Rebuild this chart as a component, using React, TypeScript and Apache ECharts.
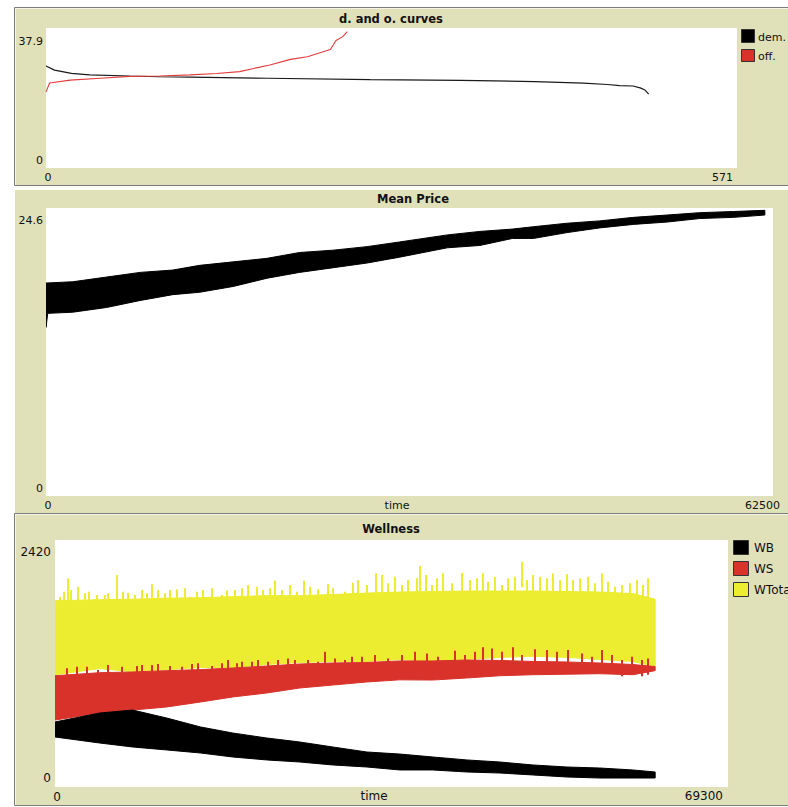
import React, { useEffect, useRef } from "react";
import * as echarts from "echarts";

// ---------- Panel 1: d. and o. curves ----------
const P1_TITLE = "d. and o. curves";
const P1_X_MAX = 571;
const P1_Y_MAX = 37.9;
const P1_X_TICKS = ["0", "571"];
const P1_Y_TICKS = ["0", "37.9"];
const DEM_X = [0, 7, 21, 36, 69, 94, 119, 183, 268, 343, 404, 444, 464, 474, 485, 491, 495, 498];
const DEM_Y = [27.6, 26.5, 25.6, 25.2, 24.9, 24.7, 24.6, 24.3, 23.9, 23.7, 23.4, 23.0, 22.6, 22.3, 22.2, 21.7, 21.1, 20.0];
const OFF_X = [0, 3, 20, 45, 69, 94, 119, 141, 160, 185, 202, 216, 235, 239, 240, 245, 249];
const OFF_Y = [20.6, 23.0, 23.8, 24.3, 24.8, 24.9, 25.2, 25.6, 26.1, 27.9, 29.4, 30.1, 32.1, 34.2, 34.6, 35.5, 36.9];

// ---------- Panel 2: Mean Price ----------
const P2_TITLE = "Mean Price";
const P2_X_MAX = 62500;
const P2_Y_MAX = 24.6;
const P2_X_TICKS = ["0", "time", "62500"];
const P2_Y_TICKS = ["0", "24.6"];
const MP_T = [0, 150, 2300, 5200, 8100, 10900, 13200, 16100, 19000, 21800, 24700, 27600, 30400, 34500, 37300, 40100, 41900, 44800, 47600, 50500, 53400, 56200, 59100, 61800];
const MP_HI = [18.2, 18.2, 18.3, 18.7, 19.1, 19.3, 19.7, 20.0, 20.3, 20.8, 21.0, 21.3, 21.7, 22.3, 22.6, 22.8, 23.0, 23.3, 23.5, 23.8, 24.0, 24.2, 24.3, 24.4];
const MP_LO = [14.4, 15.6, 15.7, 16.1, 16.7, 17.2, 17.4, 17.9, 18.6, 19.1, 19.5, 19.9, 20.4, 21.2, 21.4, 22.0, 22.0, 22.5, 22.9, 23.2, 23.4, 23.7, 23.8, 24.0];

// ---------- Panel 3: Wellness ----------
const P3_TITLE = "Wellness";
const P3_X_MAX = 69300;
const P3_Y_MAX = 2420;
const P3_X_TICKS = ["0", "time", "69300"];
const P3_Y_TICKS = ["0", "2420"];
const W_T = [0, 4600, 8000, 11500, 15000, 18300, 21800, 25200, 28600, 32100, 35500, 38900, 42400, 45800, 49200, 52700, 56100, 59500, 61800];
const YEL_HI = [1825, 1835, 1840, 1850, 1855, 1865, 1875, 1875, 1885, 1900, 1910, 1915, 1920, 1920, 1920, 1915, 1910, 1895, 1840];
const YEL_LO = [1100, 1160, 1130, 1150, 1170, 1170, 1200, 1220, 1230, 1230, 1250, 1230, 1250, 1270, 1280, 1270, 1250, 1230, 1180];
const RED_HI = [1090, 1120, 1127, 1140, 1150, 1166, 1185, 1205, 1215, 1220, 1235, 1235, 1244, 1240, 1230, 1225, 1215, 1200, 1180];
const RED_LO = [656, 725, 754, 784, 833, 882, 921, 970, 999, 1029, 1050, 1048, 1068, 1090, 1100, 1105, 1110, 1100, 1140];
const BLK_HI = [637, 725, 754, 676, 588, 529, 480, 441, 392, 343, 323, 294, 265, 245, 216, 196, 186, 167, 147];
const BLK_LO = [490, 431, 392, 363, 333, 294, 265, 245, 216, 196, 167, 167, 147, 137, 118, 98, 88, 88, 88];

// tallest visible excursions above the WTotal band
const YEL_SPIKE_T = [515, 961, 1373, 1647, 2402, 3089, 3535, 4290, 5148, 5491, 6418, 6967, 7482, 8237, 8992, 9438, 9953, 10571, 11326, 11840, 12527, 13385, 13900, 14586, 15272, 16130, 17160, 17675, 18533, 19219, 19906, 20764, 21450, 22136, 22651, 23338, 24196, 24882, 25671, 26255, 27113, 28142, 28657, 29858, 30648, 31234, 32092, 33019, 33637, 34323, 35009, 35696, 36382, 37240, 37583, 38201, 38785, 39299, 39985, 40844, 41873, 42731, 43418, 44104, 44619, 45305, 45991, 46678, 47364, 48051, 48566, 49252, 49939, 50625, 51311, 51998, 52684, 53371, 54057, 54915, 55601, 56288, 56974, 57661, 58347, 59205, 59891, 60578, 61092];
const YEL_SPIKE_V = [1865, 1914, 2045, 1930, 1963, 1898, 1914, 1881, 1881, 1898, 2077, 1914, 1904, 1881, 1930, 1898, 1989, 1930, 1898, 1930, 1937, 1947, 1865, 1914, 1930, 1947, 1881, 1924, 1930, 1947, 1979, 1963, 1930, 1947, 2021, 1930, 1979, 1914, 2021, 1963, 1937, 1989, 1947, 1914, 2002, 2028, 1979, 2094, 2077, 1996, 2061, 1979, 2028, 2045, 2165, 2077, 1979, 2045, 2094, 1996, 2100, 2028, 2045, 2094, 2012, 2061, 1979, 2045, 2061, 2208, 2028, 2077, 2061, 2045, 2094, 2028, 2087, 2028, 2045, 2061, 1996, 2094, 2012, 1963, 1979, 1996, 2028, 1979, 2045];

// tallest visible excursions of WS up into the WTotal band
const RED_SPIKE_T = [1201, 2231, 3260, 4462, 5491, 6864, 8408, 8923, 9953, 10639, 11840, 13042, 14071, 14758, 16130, 17160, 17846, 18704, 19219, 20249, 20935, 21965, 22994, 24024, 24710, 26083, 27113, 27799, 28829, 29858, 30545, 31577, 32950, 34323, 35696, 37069, 38270, 39471, 41187, 42217, 43246, 44104, 44962, 45991, 47192, 48051, 49424, 50625, 51655, 52856, 54229, 55259, 56288, 57318, 58347, 59376, 60406, 61092];
const RED_SPIKE_V = [1163, 1179, 1179, 1146, 1195, 1179, 1185, 1195, 1195, 1205, 1185, 1179, 1205, 1212, 1185, 1212, 1244, 1212, 1228, 1228, 1244, 1228, 1244, 1260, 1244, 1244, 1228, 1326, 1260, 1244, 1277, 1277, 1293, 1260, 1293, 1326, 1309, 1277, 1335, 1293, 1326, 1368, 1358, 1326, 1368, 1293, 1349, 1342, 1326, 1342, 1309, 1277, 1342, 1293, 1244, 1277, 1244, 1260];

const LEGEND1 = ["dem.", "off."];
const LEGEND3 = ["WB", "WS", "WTotal"];

const BEIGE = "#e0e0b9";
const BORDER = "#7c7c7c";
const RED = "#d8322a";
const LINE_RED = "#e23b3b";
const YELLOW = "#ecec30";
const BLACK = "#000000";
const FONT = '"DejaVu Sans", Verdana, sans-serif';

const pairs = (xs: number[], ys: number[]) => xs.map((x, i) => [x, ys[i]]);

// filled band between a lower and an upper envelope, drawn as one polygon through the axes
function band(name: string, xs: number[], hi: number[], lo: number[], color: string, gi: number, z: number) {
  const data = xs.map((x, i) => [x, lo[i], hi[i]]);
  return {
    name,
    type: "custom",
    xAxisIndex: gi,
    yAxisIndex: gi,
    z,
    silent: true,
    clip: true,
    encode: { x: 0, y: [1, 2] },
    data,
    renderItem: (params: any, api: any) => {
      if (params.dataIndex !== 0) return null;
      const top = data.map((d) => api.coord([d[0], d[2]]));
      const bottom = data.map((d) => api.coord([d[0], d[1]])).reverse();
      return {
        type: "polygon",
        shape: { points: top.concat(bottom) },
        style: { fill: color, stroke: color, lineWidth: 1 },
      };
    },
  };
}

// thin vertical spikes, each from its peak value down into its band
function spikes(name: string, ts: number[], vs: number[], depth: number, color: string, gi: number, z: number) {
  return {
    name,
    type: "custom",
    xAxisIndex: gi,
    yAxisIndex: gi,
    z,
    silent: true,
    clip: true,
    encode: { x: 0, y: 1 },
    data: ts.map((t, i) => [t, vs[i]]),
    renderItem: (params: any, api: any) => {
      const t = api.value(0);
      const v = api.value(1);
      const p1 = api.coord([t, v]);
      const p0 = api.coord([t, v - depth]);
      return {
        type: "line",
        shape: { x1: Math.round(p1[0]), y1: p1[1], x2: Math.round(p0[0]), y2: p0[1] },
        style: { stroke: color, lineWidth: 2 },
      };
    },
  };
}

function txt(text: string, x: number, y: number, align: string, size = 11, bold = false) {
  return {
    type: "text",
    x,
    y,
    z: 100,
    style: {
      text,
      fill: "#111",
      font: `${bold ? "bold " : ""}${size}px ${FONT}`,
      align,
      verticalAlign: "middle",
    },
  };
}

function box(x: number, y: number, w: number, h: number, fill: string) {
  return {
    type: "rect",
    z: 100,
    shape: { x, y, width: w, height: h },
    style: { fill, stroke: "#333", lineWidth: 1 },
  };
}

export default function App() {
  const ref = useRef<HTMLDivElement>(null);

  useEffect(() => {
    if (!ref.current) return;
    const chart = echarts.init(ref.current, null, { renderer: "svg" });

    const grids = [
      { left: 46, top: 28, width: 691, height: 140 },
      { left: 46, top: 208, width: 727, height: 288 },
      { left: 55, top: 540, width: 673, height: 247 },
    ].map((g) => ({ ...g, show: true, backgroundColor: "#ffffff", borderWidth: 0, containLabel: false }));

    const xMax = [P1_X_MAX, P2_X_MAX, P3_X_MAX];
    const yMax = [P1_Y_MAX, P2_Y_MAX, P3_Y_MAX];

    const xAxis = xMax.map((m, i) => ({ type: "value", gridIndex: i, min: 0, max: m, show: false, splitLine: { show: false } }));
    const yAxis = yMax.map((m, i) => ({ type: "value", gridIndex: i, min: 0, max: m, show: false, splitLine: { show: false } }));

    const series: any[] = [
      {
        name: LEGEND1[0],
        type: "line",
        xAxisIndex: 0,
        yAxisIndex: 0,
        data: pairs(DEM_X, DEM_Y),
        showSymbol: false,
        symbol: "none",
        lineStyle: { color: "#1a1a1a", width: 1.2 },
        z: 3,
      },
      {
        name: LEGEND1[1],
        type: "line",
        xAxisIndex: 0,
        yAxisIndex: 0,
        data: pairs(OFF_X, OFF_Y),
        showSymbol: false,
        symbol: "none",
        lineStyle: { color: LINE_RED, width: 1.1 },
        z: 4,
      },
      band(P2_TITLE, MP_T, MP_HI, MP_LO, BLACK, 1, 3),
      band(LEGEND3[2], W_T, YEL_HI, YEL_LO, YELLOW, 2, 3),
      spikes(LEGEND3[2] + " peaks", YEL_SPIKE_T, YEL_SPIKE_V, 250, YELLOW, 2, 3),
      band(LEGEND3[1], W_T, RED_HI, RED_LO, RED, 2, 4),
      spikes(LEGEND3[1] + " peaks", RED_SPIKE_T, RED_SPIKE_V, 160, RED, 2, 4),
      band(LEGEND3[0], W_T, BLK_HI, BLK_LO, BLACK, 2, 5),
    ];

    const graphic: any[] = [
      // panel backgrounds
      { type: "rect", z: -10, shape: { x: 14.5, y: 7.5, width: 790, height: 178 }, style: { fill: BEIGE, stroke: BORDER, lineWidth: 1 } },
      { type: "rect", z: -10, shape: { x: 15, y: 190, width: 790, height: 323 }, style: { fill: BEIGE } },
      { type: "rect", z: -10, shape: { x: 14.5, y: 513.5, width: 790, height: 292 }, style: { fill: BEIGE, stroke: BORDER, lineWidth: 1 } },
      { type: "line", z: -9, shape: { x1: 15.5, y1: 8.5, x2: 788, y2: 8.5 }, style: { stroke: "#f4f4e4", lineWidth: 1 } },
      { type: "line", z: -9, shape: { x1: 15.5, y1: 8.5, x2: 15.5, y2: 185 }, style: { stroke: "#f4f4e4", lineWidth: 1 } },
      { type: "line", z: -9, shape: { x1: 15.5, y1: 514.5, x2: 788, y2: 514.5 }, style: { stroke: "#f4f4e4", lineWidth: 1 } },
      { type: "line", z: -9, shape: { x1: 15.5, y1: 514.5, x2: 15.5, y2: 805 }, style: { stroke: "#f4f4e4", lineWidth: 1 } },

      // panel 1 texts
      txt(P1_TITLE, 391, 19, "center", 11.5, true),
      txt(P1_Y_TICKS[1], 43, 41, "right"),
      txt(P1_Y_TICKS[0], 43, 160, "right"),
      txt(P1_X_TICKS[0], 48, 177, "center"),
      txt(P1_X_TICKS[1], 733, 177, "right"),
      box(741.5, 29.5, 13, 13, BLACK),
      box(741.5, 49.5, 13, 12, RED),
      txt(LEGEND1[0], 758, 37, "left"),
      txt(LEGEND1[1], 758, 56, "left"),

      // panel 2 texts
      txt(P2_TITLE, 413, 199, "center", 11.5, true),
      txt(P2_Y_TICKS[1], 43, 220, "right"),
      txt(P2_Y_TICKS[0], 43, 488, "right"),
      txt(P2_X_TICKS[0], 48, 505, "center"),
      txt(P2_X_TICKS[1], 397, 505, "center"),
      txt(P2_X_TICKS[2], 780, 505, "right"),

      // panel 3 texts
      txt(P3_TITLE, 391, 529, "center", 11.5, true),
      txt(P3_Y_TICKS[1], 51, 552, "right", 12),
      txt(P3_Y_TICKS[0], 51, 778, "right", 12),
      txt(P3_X_TICKS[0], 57, 797, "center", 12),
      txt(P3_X_TICKS[1], 374, 796, "center", 12),
      txt(P3_X_TICKS[2], 723, 796, "right", 12),
      box(733.5, 540.5, 15, 14, BLACK),
      box(733.5, 561.5, 15, 14, RED),
      box(733.5, 582.5, 15, 14, YELLOW),
      txt(LEGEND3[0], 754, 548, "left", 12),
      txt(LEGEND3[1], 754, 569, "left", 12),
      txt(LEGEND3[2], 754, 590, "left", 12),
    ];

    chart.setOption({
      animation: false,
      backgroundColor: "#ffffff",
      grid: grids,
      xAxis,
      yAxis,
      series,
      graphic,
    });

    return () => chart.dispose();
  }, []);

  return (
    <div
      ref={ref}
      style={{ position: "fixed", left: 0, top: 0, width: 788, height: 807 }}
    />
  );
}
